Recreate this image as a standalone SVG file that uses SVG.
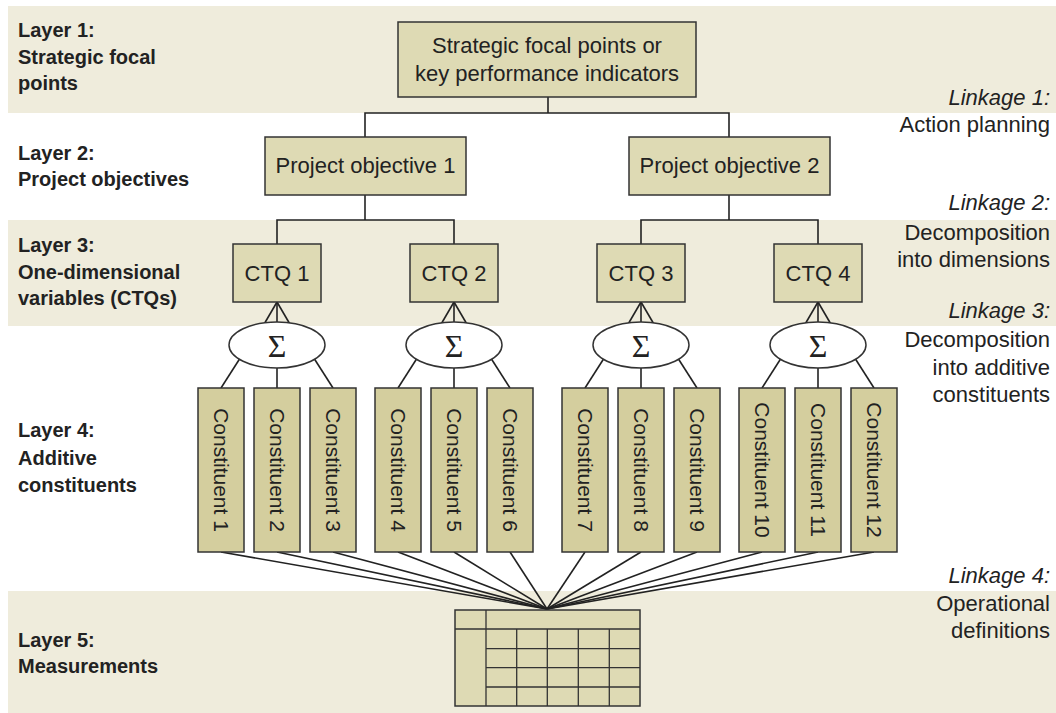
<svg xmlns="http://www.w3.org/2000/svg" width="1056" height="713" viewBox="0 0 1056 713">
<style>
.band{fill:#EFECDC}
.box{fill:#DEDAB4;stroke:#333;stroke-width:1.5}
.cbox{fill:#D4CE9E;stroke:#333;stroke-width:1.5}
.sig{fill:#fff;stroke:#333;stroke-width:1.5}
.ln{stroke:#222;stroke-width:1.6;fill:none}
.lbl{font-family:"Liberation Sans",Arial,sans-serif;font-weight:bold;font-size:20px;fill:#222}
.t{font-family:"Liberation Sans",Arial,sans-serif;font-size:22px;fill:#222}
.tc{font-family:"Liberation Sans",Arial,sans-serif;font-size:21px;fill:#222}
.rt{font-family:"Liberation Sans",Arial,sans-serif;font-size:22px;fill:#222;text-anchor:end}
.it{font-style:italic}
.s{font-family:"Liberation Serif","Times New Roman",serif;font-size:32px;fill:#222;text-anchor:middle}
.grid{stroke:#333;stroke-width:1.3;fill:none}
</style>
<defs>
<g id="sigma">
<line class="ln" x1="0" y1="302" x2="-14" y2="326"/>
<line class="ln" x1="0" y1="302" x2="0" y2="326"/>
<line class="ln" x1="0" y1="302" x2="14" y2="326"/>
<line class="ln" x1="-28.5" y1="345" x2="-56" y2="388"/>
<line class="ln" x1="0" y1="345" x2="0" y2="388"/>
<line class="ln" x1="28.5" y1="345" x2="56" y2="388"/>
<ellipse class="sig" cx="0" cy="345" rx="48" ry="23"/>
<text class="s" x="0" y="357">Σ</text>
</g>
</defs>
<g id="bands">
<rect class="band" x="8" y="6" width="1048" height="107"/>
<rect class="band" x="8" y="220" width="1048" height="106"/>
<rect class="band" x="8" y="591" width="1048" height="122"/>
</g>
<g id="layer-labels">
<text class="lbl" x="18" y="37">Layer 1:</text>
<text class="lbl" x="18" y="64">Strategic focal</text>
<text class="lbl" x="18" y="90">points</text>
<text class="lbl" x="18" y="160">Layer 2:</text>
<text class="lbl" x="18" y="186">Project objectives</text>
<text class="lbl" x="18" y="252">Layer 3:</text>
<text class="lbl" x="18" y="279">One-dimensional</text>
<text class="lbl" x="18" y="305">variables (CTQs)</text>
<text class="lbl" x="18" y="437">Layer 4:</text>
<text class="lbl" x="18" y="465">Additive</text>
<text class="lbl" x="18" y="492">constituents</text>
<text class="lbl" x="18" y="647">Layer 5:</text>
<text class="lbl" x="18" y="673">Measurements</text>
</g>
<g id="linkage-labels">
<text class="rt it" x="1050" y="105">Linkage 1:</text>
<text class="rt" x="1050" y="132">Action planning</text>
<text class="rt it" x="1050" y="210">Linkage 2:</text>
<text class="rt" x="1050" y="240">Decomposition</text>
<text class="rt" x="1050" y="267">into dimensions</text>
<text class="rt it" x="1050" y="318">Linkage 3:</text>
<text class="rt" x="1050" y="347">Decomposition</text>
<text class="rt" x="1050" y="375">into additive</text>
<text class="rt" x="1050" y="402">constituents</text>
<text class="rt it" x="1050" y="583">Linkage 4:</text>
<text class="rt" x="1050" y="611">Operational</text>
<text class="rt" x="1050" y="638">definitions</text>
</g>
<g id="connectors">
<polyline class="ln" points="548,97 548,113"/>
<polyline class="ln" points="365,137 365,113 729,113 729,137"/>
<polyline class="ln" points="365,195 365,220"/>
<polyline class="ln" points="729,195 729,220"/>
<polyline class="ln" points="277,244 277,220 454,220 454,244"/>
<polyline class="ln" points="641,244 641,220 818,220 818,244"/>
<line class="ln" x1="221" y1="552" x2="547" y2="609"/>
<line class="ln" x1="277" y1="552" x2="547" y2="609"/>
<line class="ln" x1="333" y1="552" x2="547" y2="609"/>
<line class="ln" x1="398" y1="552" x2="547" y2="609"/>
<line class="ln" x1="454" y1="552" x2="547" y2="609"/>
<line class="ln" x1="510" y1="552" x2="547" y2="609"/>
<line class="ln" x1="585" y1="552" x2="547" y2="609"/>
<line class="ln" x1="641" y1="552" x2="547" y2="609"/>
<line class="ln" x1="697" y1="552" x2="547" y2="609"/>
<line class="ln" x1="762" y1="552" x2="547" y2="609"/>
<line class="ln" x1="818" y1="552" x2="547" y2="609"/>
<line class="ln" x1="874" y1="552" x2="547" y2="609"/>
</g>
<g id="sums">
<use href="#sigma" x="277"/>
<use href="#sigma" x="454"/>
<use href="#sigma" x="641"/>
<use href="#sigma" x="818"/>
</g>
<g id="kpi">
<rect class="box" x="398" y="22" width="298" height="75"/>
<text class="t" x="547" y="53" text-anchor="middle" font-size="24">Strategic focal points or</text>
<text class="t" x="547" y="81" text-anchor="middle" font-size="24">key performance indicators</text>
</g>
<g id="po1">
<rect class="box" x="265" y="137" width="201" height="58"/>
<text class="t" x="365.5" y="173" text-anchor="middle">Project objective 1</text>
</g>
<g id="po2">
<rect class="box" x="629" y="137" width="201" height="58"/>
<text class="t" x="729.5" y="173" text-anchor="middle">Project objective 2</text>
</g>
<g id="ctq1"><rect class="box" x="233" y="244" width="88" height="58"/><text class="t" x="277" y="281" text-anchor="middle">CTQ 1</text></g>
<g id="ctq2"><rect class="box" x="410" y="244" width="88" height="58"/><text class="t" x="454" y="281" text-anchor="middle">CTQ 2</text></g>
<g id="ctq3"><rect class="box" x="597" y="244" width="88" height="58"/><text class="t" x="641" y="281" text-anchor="middle">CTQ 3</text></g>
<g id="ctq4"><rect class="box" x="774" y="244" width="88" height="58"/><text class="t" x="818" y="281" text-anchor="middle">CTQ 4</text></g>
<g id="c1"><rect class="cbox" x="198" y="388" width="46" height="164"/><text class="tc" transform="translate(221,470) rotate(90)" x="0" y="7.5" text-anchor="middle">Constituent 1</text></g>
<g id="c2"><rect class="cbox" x="254" y="388" width="46" height="164"/><text class="tc" transform="translate(277,470) rotate(90)" x="0" y="7.5" text-anchor="middle">Constituent 2</text></g>
<g id="c3"><rect class="cbox" x="310" y="388" width="46" height="164"/><text class="tc" transform="translate(333,470) rotate(90)" x="0" y="7.5" text-anchor="middle">Constituent 3</text></g>
<g id="c4"><rect class="cbox" x="375" y="388" width="46" height="164"/><text class="tc" transform="translate(398,470) rotate(90)" x="0" y="7.5" text-anchor="middle">Constituent 4</text></g>
<g id="c5"><rect class="cbox" x="431" y="388" width="46" height="164"/><text class="tc" transform="translate(454,470) rotate(90)" x="0" y="7.5" text-anchor="middle">Constituent 5</text></g>
<g id="c6"><rect class="cbox" x="487" y="388" width="46" height="164"/><text class="tc" transform="translate(510,470) rotate(90)" x="0" y="7.5" text-anchor="middle">Constituent 6</text></g>
<g id="c7"><rect class="cbox" x="562" y="388" width="46" height="164"/><text class="tc" transform="translate(585,470) rotate(90)" x="0" y="7.5" text-anchor="middle">Constituent 7</text></g>
<g id="c8"><rect class="cbox" x="618" y="388" width="46" height="164"/><text class="tc" transform="translate(641,470) rotate(90)" x="0" y="7.5" text-anchor="middle">Constituent 8</text></g>
<g id="c9"><rect class="cbox" x="674" y="388" width="46" height="164"/><text class="tc" transform="translate(697,470) rotate(90)" x="0" y="7.5" text-anchor="middle">Constituent 9</text></g>
<g id="c10"><rect class="cbox" x="739" y="388" width="46" height="164"/><text class="tc" transform="translate(762,470) rotate(90)" x="0" y="7.5" text-anchor="middle">Constituent 10</text></g>
<g id="c11"><rect class="cbox" x="795" y="388" width="46" height="164"/><text class="tc" transform="translate(818,470) rotate(90)" x="0" y="7.5" text-anchor="middle">Constituent 11</text></g>
<g id="c12"><rect class="cbox" x="851" y="388" width="46" height="164"/><text class="tc" transform="translate(874,470) rotate(90)" x="0" y="7.5" text-anchor="middle">Constituent 12</text></g>
<g id="measurements">
<rect class="box" x="455" y="610" width="185" height="96"/>
<path class="grid" d="M486,610V706M455,629H640M516.7,629V706M547.3,629V706M578.3,629V706M609.3,629V706M486,648.7H640M486,667.7H640M486,687H640"/>
</g>
</svg>
